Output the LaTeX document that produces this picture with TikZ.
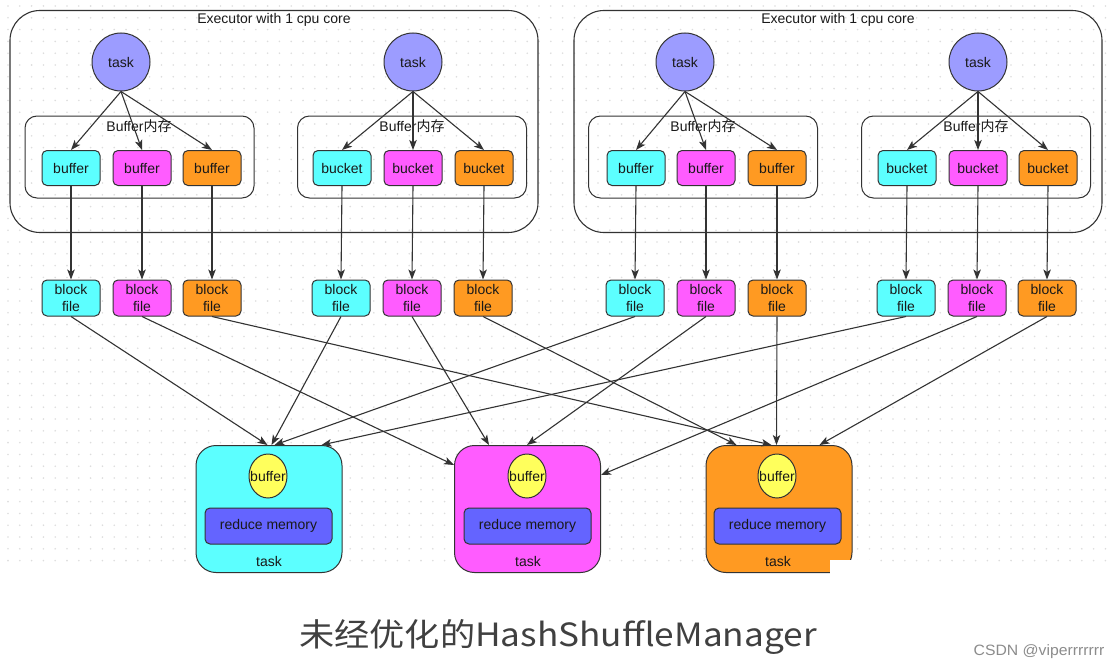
\documentclass[tikz,border=0pt]{standalone}
\usepackage{fontspec}
\setmainfont{Liberation Sans}
\newfontfamily\cjk{Noto Sans CJK SC}
\usetikzlibrary{arrows.meta,shapes.geometric,calc}
\definecolor{cyanf}{HTML}{5CFFFF}
\definecolor{magf}{HTML}{FF5CFF}
\definecolor{orgf}{HTML}{FF9A22}
\definecolor{taskf}{HTML}{9C9CFF}
\definecolor{yelf}{HTML}{FFFF5C}
\definecolor{memf}{HTML}{6464FF}
\definecolor{edge}{HTML}{333333}
\definecolor{dotc}{HTML}{DDDDDD}
\definecolor{capc}{HTML}{404040}
\begin{document}
\begin{tikzpicture}[x=1pt,y=-1pt,
  every node/.style={font=\fontsize{14}{17}\selectfont, text=black!90},
  exec/.style={draw=edge, line width=1.1pt, rounded corners=30pt, minimum width=528pt, minimum height=222pt, inner sep=0pt},
  bufarea/.style={draw=edge, line width=1pt, rounded corners=12pt, minimum width=229pt, minimum height=82pt, inner sep=0pt},
  tasknode/.style={circle, draw=edge, line width=1pt, fill=taskf, minimum size=58pt, inner sep=0pt},
  sbox/.style={draw=edge, line width=1pt, rounded corners=5pt, minimum width=58pt, minimum height=35pt, inner sep=0pt, align=center},
  bfile/.style={sbox, minimum height=36pt},
  redtask/.style={draw=edge, line width=1pt, rounded corners=20pt, minimum width=146pt, minimum height=127pt, inner sep=0pt},
  rbuf/.style={ellipse, draw=edge, line width=1pt, fill=yelf, minimum width=38pt, minimum height=44pt, inner sep=0pt},
  rmem/.style={draw=edge, line width=1pt, rounded corners=5pt, fill=memf, minimum width=127pt, minimum height=36pt, inner sep=0pt},
  arr/.style={draw=edge, line width=1.1pt, -{Stealth[length=10pt,width=7.5pt,inset=2.5pt]}}
]
\useasboundingbox (0,0) rectangle (1114,669);
\fill[white] (0,0) rectangle (1114,669);
% dotted grid
\foreach \r in {0,...,47}{
  \draw[dotc, line width=1.8pt, line cap=round, dash pattern=on 0pt off 11.8pt] (8,6+11.8*\r) -- (1114,6+11.8*\r);
}
% executors
\node[exec] (ex1) at (274,121.5) {};
\node[exec] (ex2) at (838,121.5) {};
\node (ex1t) at (274,20) {Executor with 1 cpu core};
\node (ex2t) at (838,20) {Executor with 1 cpu core};
% buffer areas
\node[bufarea] (ba1) at (139.5,157) {};
\node[bufarea] (ba2) at (412,157) {};
\node[bufarea] (ba3) at (703,157) {};
\node[bufarea] (ba4) at (976,157) {};
\node (bl1) at (139,126) {Buffer{\cjk 内存}};
\node (bl2) at (412,126) {Buffer{\cjk 内存}};
\node (bl3) at (703,126) {Buffer{\cjk 内存}};
\node (bl4) at (976,126) {Buffer{\cjk 内存}};
% tasks
\node[tasknode] (t1) at (121,62) {task};
\node[tasknode] (t2) at (413,62) {task};
\node[tasknode] (t3) at (685,62) {task};
\node[tasknode] (t4) at (978,62) {task};
% buffers / buckets
\node[sbox, fill=cyanf] (s1) at (71,168) {buffer};
\node[sbox, fill=magf] (s2) at (142,168) {buffer};
\node[sbox, fill=orgf] (s3) at (212,168) {buffer};
\node[sbox, fill=cyanf] (s4) at (342,168) {bucket};
\node[sbox, fill=magf] (s5) at (413,168) {bucket};
\node[sbox, fill=orgf] (s6) at (484,168) {bucket};
\node[sbox, fill=cyanf] (s7) at (636,168) {buffer};
\node[sbox, fill=magf] (s8) at (706,168) {buffer};
\node[sbox, fill=orgf] (s9) at (777,168) {buffer};
\node[sbox, fill=cyanf] (s10) at (907,168) {bucket};
\node[sbox, fill=magf] (s11) at (978,168) {bucket};
\node[sbox, fill=orgf] (s12) at (1048,168) {bucket};
% block files
\node[bfile, fill=cyanf] (b1) at (71,298) {block\\file};
\node[bfile, fill=magf] (b2) at (142,298) {block\\file};
\node[bfile, fill=orgf] (b3) at (212,298) {block\\file};
\node[bfile, fill=cyanf] (b4) at (341,298) {block\\file};
\node[bfile, fill=magf] (b5) at (412,298) {block\\file};
\node[bfile, fill=orgf] (b6) at (483,298) {block\\file};
\node[bfile, fill=cyanf] (b7) at (635,298) {block\\file};
\node[bfile, fill=magf] (b8) at (706,298) {block\\file};
\node[bfile, fill=orgf] (b9) at (777,298) {block\\file};
\node[bfile, fill=cyanf] (b10) at (906,298) {block\\file};
\node[bfile, fill=magf] (b11) at (977,298) {block\\file};
\node[bfile, fill=orgf] (b12) at (1047,298) {block\\file};
% reduce tasks
\node[redtask, fill=cyanf] (r1) at (269,509) {};
\node[redtask, fill=magf] (r2) at (527.5,509) {};
\node[redtask, fill=orgf] (r3) at (779,509) {};
\foreach \i/\x in {1/268,2/527,3/777}{
  \node[rbuf] (rb\i) at (\x,476) {};
  \node (rbt\i) at (rb\i.center) {buffer};
  \node[rmem] (rm\i) at (\x+0.5,526) {reduce memory};
  \node (rt\i) at (\x+1,561) {task};
}
% arrows: tasks to buffers
\foreach \t/\a/\b/\c in {t1/s1/s2/s3,t2/s4/s5/s6,t3/s7/s8/s9,t4/s10/s11/s12}{
  \draw[arr] (\t.south) -- (\a.north);
  \draw[arr] (\t.south) -- (\b.north);
  \draw[arr] (\t.south) -- (\c.north);
}
% buffers to block files
\foreach \i in {1,...,12}{
  \draw[arr] (s\i.south) -- (b\i.north);
}
% target points on reduce tasks
\coordinate (c1a) at ($(r1.north west)+(72,0)$);
\coordinate (c1b) at ($(r1.north west)+(76,0)$);
\coordinate (c1c) at ($(r1.north west)+(79,0)$);
\coordinate (c1d) at ($(r1.north west)+(126,0)$);
\coordinate (c2l) at ($(r2.north west)+(0,20)$);
\coordinate (c2a) at ($(r2.north west)+(35,0)$);
\coordinate (c2b) at ($(r2.north west)+(73,0)$);
\coordinate (c2r) at ($(r2.north east)+(0,30)$);
\coordinate (c3a) at ($(r3.north west)+(31,0)$);
\coordinate (c3b) at ($(r3.north west)+(66,0)$);
\coordinate (c3c) at ($(r3.north west)+(71,0)$);
\coordinate (c3d) at ($(r3.north west)+(114,0)$);
\draw[arr] (b1.south) -- (c1a);
\draw[arr] (b4.south) -- (c1b);
\draw[arr] (b7.south) -- (c1c);
\draw[arr] (b10.south) -- (c1d);
\draw[arr] (b2.south) -- (c2l);
\draw[arr] (b5.south) -- (c2a);
\draw[arr] (b8.south) -- (c2b);
\draw[arr] (b11.south) -- (c2r);
\draw[arr] (b6.south) -- (c3a);
\draw[arr] (b3.south) -- (c3b);
\draw[arr] (b9.south) -- (c3c);
\draw[arr] (b12.south) -- (c3d);
% white patch
\fill[white] (830,560) rectangle (880,574);
\fill[white] (0,574) rectangle (1114,669);
% caption
\node[font=\cjk\fontsize{32}{38}\selectfont, text=capc] (cap) at (558,637) {\scalebox{1.1}[1]{未经优化的HashShuffleManager}};
\node[font=\fontsize{15}{17}\selectfont, text=black!45] (wm) at (1039,652) {\scalebox{1.05}[1]{CSDN @viperrrrrrr}};
\end{tikzpicture}
\end{document}
